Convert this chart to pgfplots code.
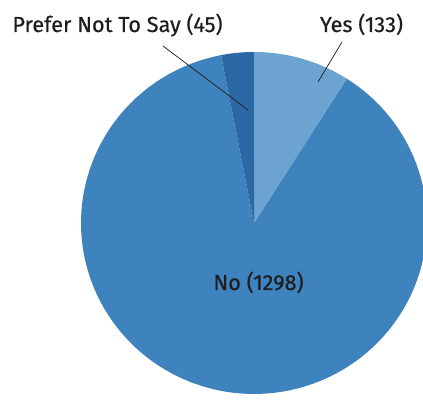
\documentclass[border=0pt]{standalone}
\usepackage{pgfplots}
\usepackage{pgfplotstable}
\pgfplotsset{compat=1.18}
\usepackage{fontspec}
\setmainfont{Fira Sans}[FakeBold=0.5]
\definecolor{cyes}{RGB}{108,163,208}
\definecolor{cno}{RGB}{62,131,190}
\definecolor{cpref}{RGB}{44,104,163}
\definecolor{ctext}{RGB}{30,30,30}
\pgfplotstableread{
label value
Yes 133
No 1298
Prefer 45
}\piedata
\pgfplotstablegetelem{0}{value}\of\piedata \let\vYes\pgfplotsretval
\pgfplotstablegetelem{1}{value}\of\piedata \let\vNo\pgfplotsretval
\pgfplotstablegetelem{2}{value}\of\piedata \let\vPref\pgfplotsretval
\pgfmathsetmacro{\vTot}{\vYes+\vNo+\vPref}
\pgfmathsetmacro{\aA}{90}
\pgfmathsetmacro{\aB}{90-360*(\vYes/\vTot)}
\pgfmathsetmacro{\aC}{\aB-360*(\vNo/\vTot)}
\pgfmathsetmacro{\aD}{\aC-360*(\vPref/\vTot)}
\def\cx{254}
\def\cy{179}
\def\rx{173}
\def\ry{171}
\begin{document}
\begin{tikzpicture}
\path[use as bounding box] (0,0) rectangle (423bp,402bp);
\begin{axis}[
  at={(0,0)}, anchor=south west,
  scale only axis, width=423bp, height=402bp,
  xmin=0, xmax=423, ymin=0, ymax=402,
  hide axis, clip=true,
]
\addplot[fill=cno, draw=none, domain=\aC:\aB, samples=120, variable=\t]
  ({\cx+\rx*cos(t)},{\cy+\ry*sin(t)}) -- (axis cs:\cx,\cy) -- cycle;
\addplot[fill=cyes, draw=none, domain=\aB:\aA, samples=30, variable=\t]
  ({\cx+\rx*cos(t)},{\cy+\ry*sin(t)}) -- (axis cs:\cx,\cy) -- cycle;
\addplot[fill=cpref, draw=none, domain=\aD:\aC, samples=20, variable=\t]
  ({\cx+\rx*cos(t)},{\cy+\ry*sin(t)}) -- (axis cs:\cx,\cy) -- cycle;
\addplot[draw=ctext, line width=0.7bp] coordinates {(163,356) (248,292)};
\addplot[draw=ctext, line width=0.7bp] coordinates {(342,360) (318,320)};
\node[anchor=base, text=ctext, inner sep=0pt, font=\fontsize{21.8}{26}\selectfont] at (axis cs:117.5,370) {Prefer Not To Say (45)};
\node[anchor=base, text=ctext, inner sep=0pt, font=\fontsize{21.8}{26}\selectfont] at (axis cs:361.5,370) {Yes (133)};
\node[anchor=base, text=ctext, inner sep=0pt, font=\fontsize{21.8}{26}\selectfont] at (axis cs:258.5,112) {No (1298)};
\end{axis}
\end{tikzpicture}
\end{document}
